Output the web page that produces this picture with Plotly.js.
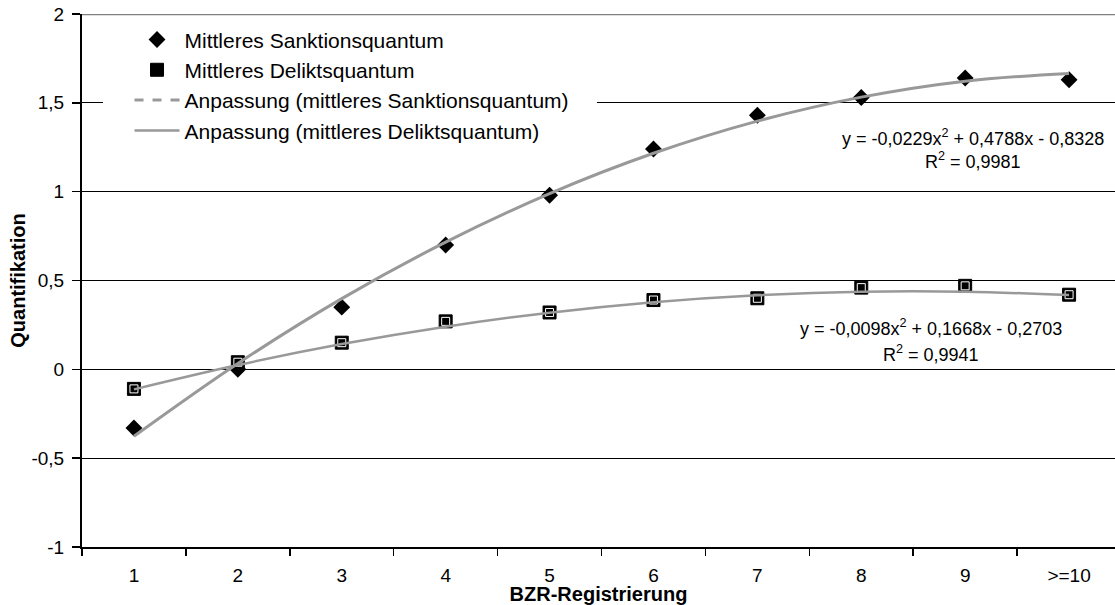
<!DOCTYPE html>
<html>
<head>
<meta charset="utf-8">
<script src="https://cdn.plot.ly/plotly-3.0.1.min.js"></script>
<style>html,body{margin:0;padding:0;background:#fff;} #chart{width:1115px;height:605px;}</style>
</head>
<body>
<div id="chart"></div>
<script>
// Categories (BZR-Registrierung)
const categories = ['1','2','3','4','5','6','7','8','9','>=10'];
// Mittleres Sanktionsquantum
const sanktion = [-0.33, 0.00, 0.35, 0.70, 0.98, 1.24, 1.43, 1.53, 1.64, 1.63];
// Mittleres Deliktsquantum
const delikt = [-0.11, 0.04, 0.15, 0.27, 0.32, 0.39, 0.40, 0.46, 0.47, 0.42];
// Trend curves as drawn (at each category)
const fitSanktion = [-0.377, 0.033, 0.398, 0.716, 0.989, 1.216, 1.397, 1.532, 1.622, 1.665];
const fitDelikt = [-0.113, 0.024, 0.142, 0.240, 0.319, 0.378, 0.417, 0.437, 0.437, 0.418];
// Y tick values and labels
const yTickVals = [-1, -0.5, 0, 0.5, 1, 1.5, 2];
const yTickText = ['-1', '-0,5', '0', '0,5', '1', '1,5', '2'];
// Legend names and equation texts
const names = ['Mittleres Sanktionsquantum', 'Mittleres Deliktsquantum',
  'Anpassung (mittleres Sanktionsquantum)', 'Anpassung (mittleres Deliktsquantum)'];
const eqSanktion = ['y = -0,0229x<sup>2</sup> + 0,4788x - 0,8328', 'R<sup>2</sup> = 0,9981'];
const eqDelikt = ['y = -0,0098x<sup>2</sup> + 0,1668x - 0,2703', 'R<sup>2</sup> = 0,9941'];

const fitColor = '#999999';
const traces = [
  {x: categories, y: sanktion, type: 'scatter', mode: 'markers', name: names[0], legendgroup: 'a',
   marker: {symbol: 'diamond', size: 13, color: '#000000', line: {width: 0}}},
  {x: categories, y: delikt, type: 'scatter', mode: 'markers', name: names[1], legendgroup: 'b',
   marker: {symbol: 'square', size: 13, color: '#000000', line: {width: 1, color: '#000000'}}},
  {x: categories, y: delikt, type: 'scatter', mode: 'markers', showlegend: false, hoverinfo: 'skip',
   marker: {symbol: 'square-open', size: 8, color: '#ffffff', line: {width: 1, color: '#ffffff'}}},
  {x: [null], y: [null], type: 'scatter', mode: 'lines', name: names[2], legendgroup: 'c',
   line: {color: fitColor, width: 3, dash: 'dash'}},
  {x: categories, y: fitDelikt, type: 'scatter', mode: 'lines', name: names[3], legendgroup: 'd',
   line: {color: fitColor, width: 2.5, shape: 'spline'}},
  {x: categories, y: fitSanktion, type: 'scatter', mode: 'lines', showlegend: false, legendgroup: 'c',
   line: {color: fitColor, width: 3, shape: 'spline'}}
];

const annFont = {family: 'Liberation Sans, Arial, sans-serif', size: 18, color: '#000'};
const layout = {
  width: 1115, height: 605,
  margin: {l: 82, r: 0, t: 14, b: 58},
  paper_bgcolor: '#ffffff', plot_bgcolor: '#ffffff',
  font: {family: 'Liberation Sans, Arial, sans-serif', size: 19, color: '#000'},
  separators: ',.',
  showlegend: true,
  legend: {x: 0.046, xanchor: 'left', y: 0.99, yanchor: 'top', bgcolor: '#ffffff',
    borderwidth: 0, font: {size: 21}, itemwidth: 45, traceorder: 'grouped', tracegroupgap: 0},
  xaxis: {
    type: 'category', categoryorder: 'array', categoryarray: categories,
    range: [-0.5, 9.442], tickson: 'boundaries', ticks: 'outside', ticklen: 7, tickwidth: 1.5,
    tickcolor: '#000', showline: true, linecolor: '#000', linewidth: 2, showgrid: false,
    zeroline: false, tickfont: {size: 19}, ticklabelstandoff: 10,
    title: {text: 'BZR-Registrierung', font: {size: 20, weight: 'bold'}, standoff: 0}
  },
  yaxis: {
    range: [-1, 2], tickvals: yTickVals, ticktext: yTickText, ticks: 'outside', ticklen: 8,
    tickwidth: 1.5, tickcolor: '#000', showline: true, linecolor: '#000', linewidth: 2,
    showgrid: true, gridcolor: '#000', gridwidth: 1, zeroline: false, tickfont: {size: 19},
    ticklabelstandoff: 4,
    title: {text: 'Quantifikation', font: {size: 20, weight: 'bold'}, standoff: 0}
  },
  shapes: [
    {type: 'line', xref: 'paper', yref: 'y', x0: 0, x1: 1, y0: 2, y1: 2,
     line: {color: '#808080', width: 2.5}, layer: 'above'},
    {type: 'rect', xref: 'paper', yref: 'y', x0: 0.0203, x1: 0.4985, y0: 1.48, y1: 1.52,
     fillcolor: '#ffffff', line: {width: 0}, layer: 'above'}
  ],
  annotations: [
    {x: 8.076, y: 1.307, xref: 'x', yref: 'y', text: eqSanktion[0], showarrow: false, font: annFont},
    {x: 8.076, y: 1.177, xref: 'x', yref: 'y', text: eqSanktion[1], showarrow: false, font: annFont},
    {x: 7.67, y: 0.237, xref: 'x', yref: 'y', text: eqDelikt[0], showarrow: false, font: annFont},
    {x: 7.67, y: 0.09, xref: 'x', yref: 'y', text: eqDelikt[1], showarrow: false, font: annFont}
  ]
};
Plotly.newPlot('chart', traces, layout, {staticPlot: true, displayModeBar: false});
</script>
</body>
</html>
